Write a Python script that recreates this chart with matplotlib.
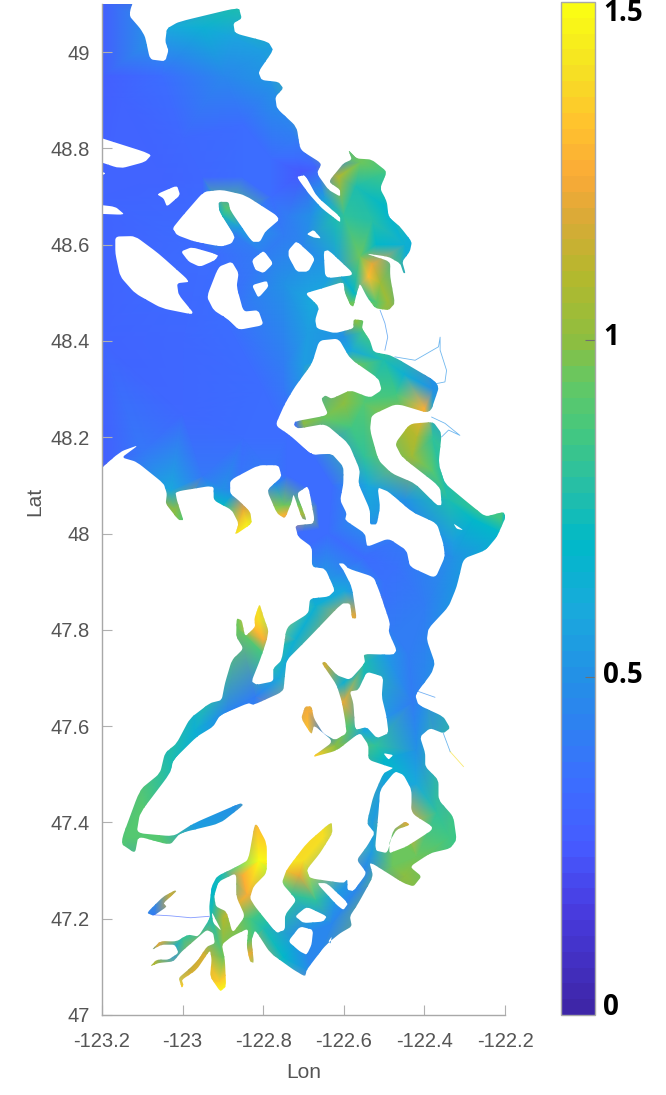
import numpy as np
import matplotlib
matplotlib.use("Agg")
import matplotlib.pyplot as plt
from matplotlib.path import Path
from matplotlib.patches import PathPatch
from matplotlib.colors import LinearSegmentedColormap, Normalize
from matplotlib.cm import ScalarMappable

plt.rcParams['font.family'] = ['Liberation Sans', 'DejaVu Sans']

# shoreline of the sound, lon/lat, walked once around the water
coast = [(-123.25,49.15),(-123.25,48.10),(-123.155,48.170),(-123.109,48.184),(-123.151,48.158),(-123.114,48.149),
(-123.047,48.104),(-123.039,48.083),(-123.042,48.062),(-123.010,48.028),(-122.998,48.028),(-123.014,48.069),
(-123.018,48.087),(-122.923,48.100),(-122.923,48.069),(-122.878,48.049),(-122.861,48.021),(-122.870,47.997),
(-122.828,48.021),(-122.832,48.045),(-122.861,48.069),(-122.882,48.083),(-122.882,48.111),(-122.812,48.142),
(-122.762,48.142),(-122.754,48.118),(-122.791,48.090),(-122.766,48.042),(-122.746,48.031),(-122.729,48.066),
(-122.725,48.083),(-122.704,48.031),(-122.692,48.028),(-122.717,48.083),(-122.688,48.100),(-122.671,48.021),
(-122.721,48.017),(-122.713,47.993),(-122.679,47.972),(-122.679,47.931),(-122.646,47.927),(-122.622,47.882),
(-122.638,47.869),(-122.684,47.865),(-122.688,47.834),(-122.742,47.806),(-122.754,47.737),(-122.775,47.720),
(-122.775,47.693),(-122.816,47.686),(-122.829,47.693),(-122.808,47.737),(-122.791,47.779),(-122.787,47.799),
(-122.799,47.827),(-122.809,47.855),(-122.822,47.824),(-122.820,47.806),(-122.845,47.786),(-122.853,47.820),
(-122.866,47.824),(-122.867,47.786),(-122.849,47.761),(-122.878,47.737),(-122.895,47.689),(-122.903,47.654),
(-122.932,47.648),(-122.982,47.616),(-123.015,47.564),(-123.044,47.544),(-123.056,47.502),(-123.106,47.468),
(-123.155,47.357),(-123.118,47.336),(-123.110,47.371),(-123.031,47.353),(-123.006,47.378),(-122.907,47.398),
(-122.849,47.436),(-122.857,47.440),(-122.973,47.398),(-123.023,47.371),(-123.114,47.378),(-123.106,47.419),
(-123.031,47.502),(-123.023,47.530),(-122.965,47.578),(-122.924,47.599),(-122.907,47.623),(-122.837,47.648),
(-122.824,47.644),(-122.750,47.672),(-122.746,47.706),(-122.742,47.737),(-122.692,47.779),(-122.605,47.855),
(-122.584,47.855),(-122.580,47.824),(-122.568,47.824),(-122.580,47.889),(-122.601,47.924),(-122.613,47.938),
(-122.601,47.938),(-122.588,47.927),(-122.526,47.910),(-122.510,47.876),(-122.485,47.813),(-122.489,47.796),
(-122.469,47.758),(-122.477,47.748),(-122.551,47.750),(-122.547,47.731),(-122.585,47.696),(-122.618,47.706),
(-122.647,47.734),(-122.655,47.731),(-122.618,47.686),(-122.605,47.651),(-122.597,47.613),(-122.593,47.585),
(-122.622,47.571),(-122.651,47.585),(-122.674,47.616),(-122.680,47.641),(-122.696,47.641),(-122.706,47.616),
(-122.680,47.582),(-122.674,47.602),(-122.626,47.568),(-122.680,47.535),(-122.618,47.549),(-122.560,47.587),
(-122.539,47.561),(-122.539,47.530),(-122.489,47.516),(-122.477,47.513),(-122.502,47.502),(-122.527,47.454),
(-122.543,47.398),(-122.523,47.378),(-122.543,47.350),(-122.568,47.322),(-122.543,47.295),(-122.576,47.257),
(-122.591,47.260),(-122.591,47.282),(-122.601,47.274),(-122.684,47.284),(-122.692,47.302),(-122.659,47.336),
(-122.628,47.378),(-122.630,47.402),(-122.692,47.357),(-122.742,47.302),(-122.754,47.274),(-122.717,47.239),
(-122.746,47.208),(-122.746,47.177),(-122.767,47.170),(-122.820,47.225),(-122.833,47.243),(-122.824,47.267),
(-122.791,47.295),(-122.791,47.357),(-122.820,47.402),(-122.837,47.322),(-122.866,47.308),(-122.915,47.288),
(-122.928,47.267),(-122.934,47.225),(-122.932,47.201),(-122.961,47.163),(-122.986,47.167),(-123.015,47.153),
(-123.056,47.153),(-123.077,47.135),(-123.052,47.146),(-123.019,47.146),(-123.010,47.129),(-123.035,47.115),
(-123.064,47.115),(-123.081,47.101),(-123.060,47.108),(-123.023,47.111),(-123.002,47.132),(-122.973,47.153),
(-122.940,47.177),(-122.924,47.170),(-122.920,47.149),(-122.940,47.142),(-122.961,47.115),(-122.982,47.097),
(-123.010,47.077),(-123.002,47.056),(-122.998,47.063),(-123.002,47.073),(-122.965,47.094),(-122.932,47.135),
(-122.928,47.115),(-122.932,47.080),(-122.907,47.049),(-122.892,47.059),(-122.895,47.115),(-122.903,47.146),
(-122.878,47.163),(-122.837,47.180),(-122.841,47.142),(-122.833,47.111),(-122.823,47.108),(-122.829,47.156),
(-122.820,47.177),(-122.783,47.129),(-122.725,47.094),(-122.696,47.080),(-122.692,47.094),(-122.651,47.139),
(-122.634,47.153),(-122.609,47.170),(-122.580,47.184),(-122.585,47.205),(-122.564,47.232),(-122.527,47.288),
(-122.537,47.319),(-122.452,47.274),(-122.427,47.267),(-122.407,47.288),(-122.436,47.308),(-122.386,47.336),
(-122.336,47.346),(-122.320,47.364),(-122.328,47.412),(-122.365,47.447),(-122.365,47.488),(-122.398,47.516),
(-122.398,47.544),(-122.411,47.578),(-122.386,47.596),(-122.353,47.585),(-122.336,47.596),(-122.353,47.620),
(-122.415,47.644),(-122.423,47.665),(-122.382,47.710),(-122.374,47.731),(-122.394,47.779),(-122.390,47.803),
(-122.340,47.848),(-122.320,47.889),(-122.303,47.948),(-122.249,47.965),(-122.220,47.993),(-122.198,48.035),
(-122.204,48.045),(-122.249,48.035),(-122.299,48.069),(-122.349,48.104),(-122.365,48.145),(-122.357,48.208),
(-122.378,48.232),(-122.436,48.228),(-122.473,48.187),(-122.456,48.159),(-122.361,48.097),(-122.357,48.059),
(-122.369,48.059),(-122.423,48.104),(-122.481,48.125),(-122.514,48.152),(-122.535,48.215),(-122.531,48.246),
(-122.469,48.270),(-122.386,48.249),(-122.361,48.311),(-122.481,48.370),(-122.526,48.377),(-122.535,48.401),
(-122.555,48.426),(-122.551,48.443),(-122.576,48.445),(-122.576,48.426),(-122.622,48.416),(-122.667,48.426),
(-122.671,48.444),(-122.661,48.471),(-122.696,48.499),(-122.655,48.509),(-122.601,48.523),(-122.597,48.499),
(-122.584,48.475),(-122.576,48.471),(-122.568,48.499),(-122.560,48.520),(-122.543,48.492),(-122.522,48.468),
(-122.489,48.464),(-122.473,48.478),(-122.485,48.534),(-122.485,48.565),(-122.547,48.582),(-122.489,48.575),
(-122.460,48.561),(-122.452,48.541),(-122.447,48.541),(-122.455,48.565),(-122.436,48.586),(-122.431,48.606),
(-122.460,48.637),(-122.489,48.658),(-122.493,48.689),(-122.510,48.717),(-122.493,48.752),(-122.531,48.777),
(-122.568,48.779),(-122.589,48.797),(-122.580,48.777),(-122.601,48.769),(-122.638,48.731),(-122.609,48.714),
(-122.609,48.700),(-122.638,48.714),(-122.667,48.748),(-122.655,48.769),(-122.708,48.797),(-122.717,48.845),
(-122.766,48.883),(-122.770,48.907),(-122.750,48.925),(-122.762,48.938),(-122.804,48.942),(-122.812,48.959),
(-122.775,49.004),(-122.787,49.021),(-122.870,49.039),(-122.874,49.060),(-122.853,49.070),(-122.861,49.093),
(-123.010,49.063),(-123.039,49.049),(-123.043,49.022),(-123.035,49.004),(-123.043,48.981),(-123.081,48.985),
(-123.093,49.032),(-123.105,49.049),(-123.134,49.077),(-123.105,49.15)]

# islands, each one a ring of lon/lat
whidbey = [(-122.661,48.401),(-122.613,48.405),(-122.584,48.363),(-122.514,48.322),(-122.506,48.298),(-122.535,48.282),
(-122.584,48.298),(-122.630,48.280),(-122.646,48.287),(-122.656,48.280),(-122.638,48.246),(-122.721,48.233),
(-122.723,48.225),(-122.713,48.218),(-122.646,48.228),(-122.588,48.187),(-122.560,48.132),(-122.564,48.104),
(-122.535,48.049),(-122.535,48.019),(-122.518,48.019),(-122.510,48.055),(-122.516,48.096),(-122.489,48.087),
(-122.431,48.045),(-122.369,48.021),(-122.353,47.979),(-122.349,47.952),(-122.373,47.907),(-122.436,47.931),
(-122.444,47.965),(-122.489,47.990),(-122.543,47.972),(-122.547,48.000),(-122.597,48.028),(-122.593,48.042),
(-122.609,48.069),(-122.601,48.104),(-122.601,48.139),(-122.630,48.166),(-122.679,48.163),(-122.729,48.201),
(-122.770,48.225),(-122.746,48.270),(-122.721,48.305),(-122.679,48.353)]
vashon = [(-122.473,47.506),(-122.452,47.499),(-122.432,47.468),(-122.432,47.419),(-122.374,47.388),(-122.444,47.350),
(-122.469,47.342),(-122.487,47.336),(-122.487,47.360),(-122.469,47.385),(-122.436,47.395),(-122.448,47.402),
(-122.477,47.385),(-122.492,47.336),(-122.523,47.342),(-122.514,47.419),(-122.510,47.468)]
bainbridge = [(-122.543,47.713),(-122.502,47.703),(-122.506,47.661),(-122.494,47.620),(-122.489,47.585),(-122.518,47.575),
(-122.543,47.598),(-122.572,47.592),(-122.576,47.647),(-122.585,47.672),(-122.564,47.675)]
orcas = [(-123.025,48.634),(-123.002,48.658),(-122.948,48.710),(-122.903,48.714),(-122.845,48.703),(-122.756,48.655),
(-122.795,48.627),(-122.808,48.606),(-122.828,48.606),(-122.882,48.672),(-122.886,48.689),(-122.911,48.689),
(-122.909,48.669),(-122.870,48.617),(-122.878,48.603),(-122.903,48.596),(-122.969,48.606),(-123.014,48.620)]
san_juan = [(-123.167,48.617),(-123.118,48.618),(-123.060,48.582),(-122.981,48.523),(-123.014,48.520),(-123.010,48.496),
(-122.969,48.454),(-123.052,48.468),(-123.118,48.499),(-123.155,48.534),(-123.167,48.582)]
lopez = [(-122.940,48.492),(-122.911,48.554),(-122.878,48.565),(-122.861,48.541),(-122.866,48.513),(-122.849,48.461),
(-122.812,48.464),(-122.799,48.433),(-122.861,48.423),(-122.886,48.444),(-122.923,48.464)]
small_islands = [
 [(-123.23,48.829),(-123.076,48.788),(-123.093,48.772),(-123.155,48.758),(-123.23,48.779)],
 [(-123.21,48.755),(-123.19,48.748),(-123.21,48.741)],
 [(-123.23,48.685),(-123.167,48.679),(-123.143,48.662),(-123.23,48.665)],
 [(-123.064,48.705),(-123.014,48.723),(-123.006,48.703),(-123.039,48.679),(-123.047,48.696)],
 [(-123.004,48.586),(-122.977,48.595),(-122.911,48.579),(-122.919,48.568),(-122.957,48.554),(-122.985,48.565)],
 [(-122.828,48.568),(-122.799,48.588),(-122.775,48.561),(-122.799,48.541),(-122.820,48.548)],
 [(-122.828,48.516),(-122.791,48.525),(-122.787,48.513),(-122.812,48.489)],
 [(-122.737,48.589),(-122.717,48.608),(-122.671,48.572),(-122.688,48.544),(-122.717,48.544),(-122.737,48.575)],
 [(-122.692,48.622),(-122.675,48.631),(-122.656,48.613),(-122.675,48.615)],
 [(-122.650,48.586),(-122.638,48.589),(-122.572,48.537),(-122.646,48.530)],
 [(-122.717,48.741),(-122.696,48.745),(-122.667,48.700),(-122.609,48.658),(-122.609,48.646),(-122.655,48.676),(-122.688,48.707)],
 [(-122.328,48.021),(-122.303,48.007),(-122.320,48.010)],
 [(-122.502,47.544),(-122.477,47.540),(-122.489,47.530)],
 [(-122.667,47.274),(-122.642,47.274),(-122.589,47.232),(-122.601,47.218),(-122.618,47.229)],
 [(-122.721,47.205),(-122.692,47.225),(-122.642,47.205),(-122.651,47.194),(-122.700,47.191)],
 [(-122.738,47.153),(-122.709,47.184),(-122.676,47.177),(-122.680,47.146),(-122.692,47.125),(-122.709,47.132)],
 [(-122.638,47.153),(-122.630,47.163),(-122.633,47.148)],
 [(-122.867,47.295),(-122.911,47.277),(-122.922,47.246),(-122.917,47.225),(-122.891,47.215),(-122.876,47.170),(-122.845,47.205),(-122.867,47.246)],
 [(-122.928,47.215),(-122.903,47.174),(-122.924,47.191)],
]
# inlet that only joins the rest through a thread of river
totten = [(-123.019,47.259),(-123.048,47.246),(-123.089,47.212),(-123.072,47.206),(-123.039,47.225),(-123.048,47.232),(-123.015,47.257)]

# rivers: lon/lat points, then the value they show
rivers = [
 ([(-123.072,47.208),(-123.03,47.206),(-122.98,47.202),(-122.934,47.205)], 0.3),
 ([(-122.510,48.464),(-122.498,48.437),(-122.491,48.408),(-122.498,48.381)], 0.45),
 ([(-122.473,48.367),(-122.423,48.360),(-122.365,48.388),(-122.361,48.408),(-122.361,48.381),(-122.345,48.339),(-122.349,48.315),(-122.373,48.311)], 0.5),
 ([(-122.382,48.242),(-122.349,48.229),(-122.312,48.204),(-122.340,48.215),(-122.357,48.201)], 0.5),
 ([(-122.353,47.585),(-122.336,47.547)], 0.5),
 ([(-122.336,47.547),(-122.303,47.516)], 1.4),
 ([(-122.415,47.672),(-122.374,47.660)], 0.45),
]

# surface values: lon, lat, value
samples = [(-123.35,49.2,.3),(-122.0,49.2,.7),(-122.0,46.9,.7),(-123.35,46.9,.7),
(-123.2,49.1,.27),(-122.86,49.09,.75),(-123.03,49.05,.6),(-122.95,49.05,.65),(-122.87,49.03,.58),(-122.8,49.0,.55),
(-122.78,48.93,.5),(-122.9,48.95,.45),(-123.05,48.95,.35),(-123.15,48.9,.3),(-123.2,48.95,.28),(-122.78,48.88,.45),
(-122.72,48.82,.42),(-122.85,48.85,.35),(-123.0,48.82,.32),(-122.67,48.76,.3),(-122.72,48.78,.35),(-122.705,48.752,.25),(-122.65,48.7,.55),
(-122.62,48.66,.75),(-122.613,48.741,1.1),(-122.56,48.77,.95),(-122.5,48.75,.85),(-122.57,48.72,.75),(-122.5,48.68,.7),
(-122.6,48.66,.8),(-122.53,48.65,.78),(-122.45,48.6,.65),(-122.52,48.6,.7),(-122.56,48.575,.95),(-122.539,48.534,1.3),
(-122.53,48.56,1.2),(-122.51,48.52,1.05),(-122.49,48.48,1.05),(-122.52,48.48,.9),(-122.575,48.5,.7),(-122.585,48.48,.95),
(-122.89,48.675,.9),(-122.9,48.66,.75),(-122.86,48.635,.55),(-122.87,48.62,.42),(-122.95,48.74,.32),(-122.85,48.74,.33),(-122.78,48.7,.35),(-122.92,48.58,.33),(-123.05,48.74,.3),(-122.78,48.78,.33),(-122.75,48.62,.4),(-122.74,48.66,.42),(-122.68,48.66,.5),
(-122.8,48.58,.4),(-122.7,48.6,.45),(-122.75,48.52,.5),(-122.68,48.48,.6),
(-122.62,48.55,.55),(-122.6,48.41,.5),(-122.55,48.42,.85),(-122.57,48.44,1.0),(-123.2,48.7,.3),(-123.2,48.4,.3),
(-123.2,48.15,.28),(-123.0,48.4,.31),(-122.95,48.6,.33),(-122.9,48.45,.33),(-122.75,48.35,.42),(-122.7,48.35,.55),
(-122.69,48.42,.55),(-123.1,48.17,.38),(-123.0,48.25,.32),(-122.85,48.2,.33),(-122.8,48.12,.42),(-123.03,48.09,.6),
(-122.72,48.28,.45),(-122.75,48.3,.38),(-122.8,48.3,.34),(-122.72,48.22,.33),(-122.74,48.2,.33),(-122.68,48.165,.33),
(-122.95,48.12,.38),(-122.86,48.1,.38),(-122.78,48.13,.38),(-122.74,48.12,.35),(-122.7,48.1,.33),(-122.665,48.06,.33),(-122.66,48.01,.33),(-122.68,47.98,.35),
(-122.70,48.005,.35),(-122.72,48.0,.35),
(-123.02,48.05,1.0),(-123.0,48.03,.9),(-122.9,48.09,.5),(-122.9,48.06,.7),(-122.85,48.05,1.2),(-122.84,48.02,1.45),
(-122.87,48.0,1.4),(-122.77,48.1,.5),(-122.75,48.06,.95),(-122.74,48.04,1.25),(-122.71,48.06,.95),(-122.69,48.04,1.0),
(-122.7,48.15,.33),(-122.63,48.1,.33),(-122.64,48.0,.35),(-122.55,47.95,.35),(-122.47,47.93,.36),(-122.47,47.85,.38),
(-122.50,47.83,.38),(-122.50,47.87,.37),(-122.475,47.79,.4),
(-122.4,47.85,.42),(-122.44,47.75,.4),(-122.4,47.7,.45),(-122.65,47.9,.55),(-122.6,47.88,.6),(-122.575,47.83,1.2),
(-122.67,47.85,.65),(-122.72,47.78,.65),(-122.8,47.75,.85),(-122.81,47.82,1.4),(-122.83,47.81,1.3),(-122.86,47.8,.95),
(-122.8,47.78,1.25),(-122.76,47.7,.6),(-122.82,47.66,.4),(-122.89,47.63,.45),(-122.97,47.59,.65),(-123.03,47.52,.75),
(-123.1,47.44,.9),(-123.14,47.37,.9),(-123.05,47.36,.9),(-122.97,47.39,.55),(-122.87,47.43,.5),(-122.43,47.65,.42),
(-122.42,47.55,.5),(-122.42,47.48,.6),(-122.37,47.42,.8),(-122.34,47.37,.85),(-122.42,47.33,.95),(-122.45,47.29,1.0),
(-122.48,47.31,.95),(-122.45,47.38,1.0),(-122.44,47.40,1.2),(-122.475,47.37,.95),(-122.5,47.75,.55),(-122.55,47.73,.75),
(-122.6,47.69,.65),(-122.645,47.73,1.15),(-122.6,47.65,1.2),(-122.59,47.6,.9),(-122.62,47.56,1.0),(-122.67,47.54,1.35),
(-122.65,47.58,.45),(-122.69,47.63,1.25),(-122.69,47.6,1.3),(-122.55,47.59,.6),(-122.52,47.56,.8),(-122.5,47.53,.7),
(-122.5,47.47,.55),(-122.53,47.4,.55),(-122.53,47.34,.55),(-122.55,47.3,.45),(-122.57,47.26,.45),(-122.65,47.37,1.4),
(-122.7,47.32,1.4),(-122.71,47.29,1.2),(-122.73,47.25,.8),(-122.67,47.24,.8),(-122.62,47.25,.55),(-122.67,47.2,.55),
(-122.63,47.19,.45),(-122.7,47.165,.45),(-122.68,47.09,.45),(-122.75,47.12,.7),(-122.8,47.18,.75),(-122.815,47.39,1.3),
(-122.81,47.32,1.5),(-122.85,47.29,1.25),(-122.84,47.25,1.25),(-122.83,47.2,.85),(-122.83,47.13,1.2),(-122.83,47.16,.9),
(-122.9,47.3,.75),(-122.925,47.25,.7),(-122.9,47.2,1.1),(-122.93,47.2,.75),(-123.0,47.16,.8),(-123.06,47.15,1.2),
(-123.03,47.13,.55),(-123.07,47.105,1.1),(-122.95,47.13,1.15),(-122.98,47.09,1.15),(-123.0,47.06,1.35),(-122.9,47.12,.95),
(-122.91,47.07,1.35),(-122.9,47.05,1.5),(-123.07,47.21,.4),(-123.03,47.24,1.15),(-122.58,48.38,.6),(-122.57,48.35,.95),
(-122.5,48.36,.75),(-122.45,48.33,.65),(-122.38,48.3,.5),(-122.4,48.26,1.25),(-122.47,48.29,.85),(-122.55,48.27,.9),
(-122.6,48.27,1.0),(-122.65,48.24,.95),(-122.7,48.23,1.0),(-122.58,48.22,.85),(-122.55,48.16,.8),(-122.54,48.1,.6),
(-122.53,48.04,.55),(-122.45,48.23,1.1),(-122.42,48.2,1.1),(-122.38,48.2,.8),(-122.43,48.16,1.05),(-122.38,48.13,.9),
(-122.34,48.07,.75),(-122.28,48.03,.7),(-122.21,48.03,.85),(-122.205,48.0,.7),(-122.45,48.07,.5),(-122.4,48.02,.5),
(-122.33,47.98,.55),(-122.33,47.95,.5),(-122.38,47.97,.42),(-122.44,48.0,.42),(-122.5,47.9,.36),(-122.42,47.95,.4)]

# colorbar colours, value then rgb
bar_values = [0,.15,.24,.336,.43,.5,.6,.7,.775,.87,.94,1.0,1.1,1.18,1.25,1.33,1.41,1.5]
bar_rgb = [(62,38,168),(72,60,225),(70,90,255),(60,110,255),(45,130,240),(35,145,230),(25,170,220),(0,185,200),
           (35,190,170),(70,200,125),(100,200,100),(140,190,65),(180,185,45),(215,170,55),(250,170,55),(255,195,45),
           (245,225,35),(250,252,20)]

x_ticks = [-123.2,-123,-122.8,-122.6,-122.4,-122.2]
y_ticks = [47,47.2,47.4,47.6,47.8,48,48.2,48.4,48.6,48.8,49]


def ring(points, ccw=True, cut=0.22):
    # closed ring with the corners rounded by quadratic curves
    pts = np.array(points)
    x, y = pts[:, 0], pts[:, 1]
    area = np.sum(x * np.roll(y, -1) - np.roll(x, -1) * y)
    if (area > 0) != ccw:
        pts = pts[::-1]
    v, c = [], []
    n = len(pts)
    for i in range(n):
        p, q, r = pts[i - 1], pts[i], pts[(i + 1) % n]
        a = q + (p - q) * cut
        b = q + (r - q) * cut
        v += [a, q, b]
        c += [Path.MOVETO if i == 0 else Path.LINETO, Path.CURVE3, Path.CURVE3]
    v.append(v[0])
    c.append(Path.CLOSEPOLY)
    return np.array(v), c


cmap = LinearSegmentedColormap.from_list(
    "bar", [(v / 1.5, tuple(c / 255 for c in rgb)) for v, rgb in zip(bar_values, bar_rgb)], N=64)
norm = Normalize(0, 1.5)

W, H = 666, 1095
fig = plt.figure(figsize=(W / 100, H / 100), dpi=100)
ax = fig.add_axes([102 / W, (H - 1015) / H, 403 / W, 1011 / H])

verts, codes = [], []
for r, outer in [(coast, True), (totten, True), (whidbey, False), (vashon, False), (bainbridge, False),
                 (orcas, False), (san_juan, False), (lopez, False)] + [(s, False) for s in small_islands]:
    v, c = ring(r, outer)
    verts.append(v)
    codes += c
water = Path(np.vstack(verts), codes)

s = np.array(samples)
mesh = ax.tripcolor(s[:, 0], s[:, 1], s[:, 2], shading='gouraud', cmap=cmap, norm=norm)
clip = PathPatch(water, transform=ax.transData, facecolor='none', edgecolor='none')
ax.add_patch(clip)
mesh.set_clip_path(clip)

for pts, val in rivers:
    p = np.array(pts)
    ax.plot(p[:, 0], p[:, 1], color=cmap(norm(val)), lw=0.6, alpha=0.65)

ax.set_xlim(-123.2, -122.2)
ax.set_ylim(47, 49.1)
ax.set_xticks(x_ticks)
ax.set_xticklabels(['-123.2', '-123', '-122.8', '-122.6', '-122.4', '-122.2'])
ax.set_yticks(y_ticks)
ax.set_yticklabels(['47', '47.2', '47.4', '47.6', '47.8', '48', '48.2', '48.4', '48.6', '48.8', '49'])
ax.tick_params(direction='in', length=7, width=0.8, color='#b0b0b0', labelcolor='#555555', labelsize=14.5)
ax.tick_params(axis='x', pad=12)
ax.tick_params(axis='y', pad=9)
ax.spines['top'].set_visible(False)
ax.spines['right'].set_visible(False)
for side in ['left', 'bottom']:
    ax.spines[side].set_color('#a8a8a8')
    ax.spines[side].set_linewidth(1.0)
ax.set_xlabel('Lon', fontsize=15, color='#555555', labelpad=9)
ax.set_ylabel('Lat', fontsize=15, color='#555555')
ax.yaxis.set_label_coords(-0.143, 0.508)

# colorbar
cax = fig.add_axes([561 / W, (H - 1015) / H, 34 / W, 1013 / H])
cb = fig.colorbar(ScalarMappable(norm=norm, cmap=cmap), cax=cax, ticks=[0.5, 1])
cb.ax.tick_params(direction='in', length=7, width=0.8, color='#707070', labelright=False, right=True)
cb.outline.set_edgecolor('#a8a8a8')
cb.outline.set_linewidth(1.0)
label_y = [(0, '0', 0.011), (0.5, '0.5', 0.003), (1, '1', 0.003), (1.5, '1.5', -0.0165)]
for val, lab, off in label_y:
    cax.text(1.25, val + off, lab, transform=cax.get_yaxis_transform(), fontsize=20, fontweight='bold',
             family=['Open Sans', 'DejaVu Sans'], color='black', va='center', ha='left', clip_on=False)

fig.savefig('out.png', dpi=100)
